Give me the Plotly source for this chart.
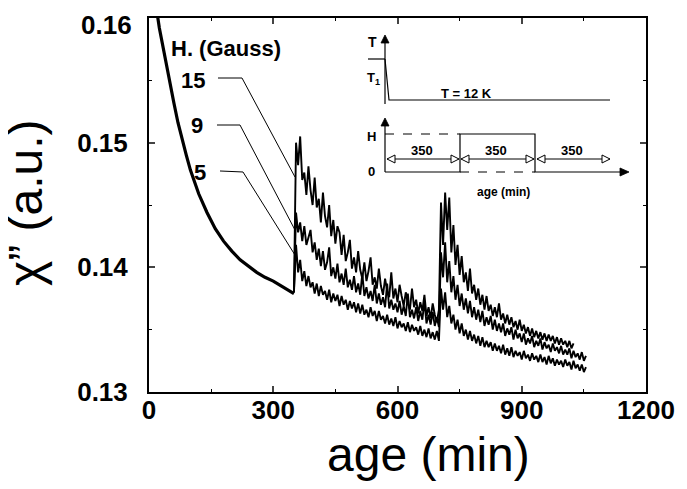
import plotly.graph_objects as go

# ---------------- data ----------------
age_aging = [15, 20, 25, 30, 35, 40, 50, 60, 70, 80, 90, 100, 110, 120, 140, 160, 180,
             200, 220, 240, 260, 280, 300, 320, 340, 350]
chi_aging = [0.1625, 0.1603, 0.1592, 0.1583, 0.1574, 0.1565, 0.1548, 0.1532, 0.1516, 0.1502,
             0.1490, 0.1478, 0.1468, 0.1459, 0.1444, 0.1431, 0.1421, 0.1413, 0.1406, 0.1401,
             0.1396, 0.1392, 0.1389, 0.1385, 0.1381, 0.1379]

age_h15 = list(range(350, 1030, 5))
chi_h15 = [
    0.1380, 0.1500, 0.1482, 0.1505, 0.1470, 0.1476, 0.1458, 0.1481, 0.1462, 0.1450,
    0.1472, 0.1448, 0.1455, 0.1436, 0.1460, 0.1441, 0.1432, 0.1450, 0.1425, 0.1438,
    0.1419, 0.1433, 0.1428, 0.1410, 0.1426, 0.1405, 0.1412, 0.1422, 0.1399, 0.1408,
    0.1396, 0.1413, 0.1398, 0.1391, 0.1404, 0.1389, 0.1397, 0.1408, 0.1386, 0.1392,
    0.1383, 0.1399, 0.1385, 0.1378, 0.1391, 0.1381, 0.1376, 0.1396, 0.1375, 0.1383,
    0.1372, 0.1386, 0.1377, 0.1369, 0.1380, 0.1371, 0.1366, 0.1383, 0.1368, 0.1374,
    0.1363, 0.1372, 0.1365, 0.1378, 0.1361, 0.1368, 0.1359, 0.1371, 0.1362, 0.1356,
    0.1366, 0.1452, 0.1418, 0.1460, 0.1430, 0.1456, 0.1412, 0.1434, 0.1402, 0.1418,
    0.1394, 0.1409, 0.1388, 0.1396, 0.1381, 0.1399, 0.1379, 0.1386, 0.1374, 0.1383,
    0.1370, 0.1378, 0.1366, 0.1377, 0.1365, 0.1370, 0.1361, 0.1368, 0.1360, 0.1371,
    0.1358, 0.1363, 0.1355, 0.1362, 0.1354, 0.1360, 0.1352, 0.1357, 0.1350, 0.1358,
    0.1349, 0.1354, 0.1347, 0.1352, 0.1345, 0.1351, 0.1344, 0.1349, 0.1343, 0.1348,
    0.1342, 0.1347, 0.1341, 0.1346, 0.1341, 0.1345, 0.1339, 0.1344, 0.1338, 0.1343,
    0.1338, 0.1341, 0.1336, 0.1341, 0.1335, 0.1339]

age_h9 = list(range(350, 1060, 5))
chi_h9 = [
    0.1380, 0.1444, 0.1428, 0.1436, 0.1421, 0.1433, 0.1418, 0.1425, 0.1430, 0.1412,
    0.1420, 0.1406, 0.1415, 0.1401, 0.1413, 0.1398, 0.1404, 0.1416, 0.1393, 0.1400,
    0.1391, 0.1403, 0.1388, 0.1395, 0.1386, 0.1399, 0.1384, 0.1390, 0.1382, 0.1393,
    0.1380, 0.1387, 0.1378, 0.1395, 0.1377, 0.1384, 0.1375, 0.1381, 0.1373, 0.1386,
    0.1371, 0.1379, 0.1370, 0.1376, 0.1368, 0.1387, 0.1367, 0.1374, 0.1366, 0.1371,
    0.1364, 0.1373, 0.1362, 0.1369, 0.1361, 0.1379, 0.1360, 0.1366, 0.1359, 0.1368,
    0.1357, 0.1365, 0.1358, 0.1373, 0.1355, 0.1362, 0.1354, 0.1364, 0.1353, 0.1360,
    0.1352, 0.1412, 0.1392, 0.1420, 0.1388, 0.1405, 0.1380, 0.1393, 0.1374, 0.1386,
    0.1369, 0.1379, 0.1366, 0.1375, 0.1363, 0.1373, 0.1360, 0.1368, 0.1358, 0.1366,
    0.1356, 0.1365, 0.1353, 0.1360, 0.1354, 0.1361, 0.1350, 0.1358, 0.1349, 0.1355,
    0.1348, 0.1355, 0.1345, 0.1351, 0.1346, 0.1352, 0.1342, 0.1350, 0.1343, 0.1347,
    0.1340, 0.1347, 0.1338, 0.1343, 0.1339, 0.1345, 0.1336, 0.1341, 0.1337, 0.1343,
    0.1334, 0.1340, 0.1335, 0.1338, 0.1332, 0.1339, 0.1333, 0.1336, 0.1331, 0.1337,
    0.1330, 0.1334, 0.1330, 0.1335, 0.1327, 0.1333, 0.1328, 0.1331, 0.1326, 0.1332,
    0.1325, 0.1329]

age_h5 = list(range(350, 1060, 5))
chi_h5 = [
    0.1380, 0.1418, 0.1396, 0.1406, 0.1389, 0.1397, 0.1385, 0.1393, 0.1384, 0.1388,
    0.1379, 0.1387, 0.1377, 0.1385, 0.1378, 0.1381, 0.1374, 0.1382, 0.1372, 0.1379,
    0.1373, 0.1378, 0.1369, 0.1377, 0.1370, 0.1374, 0.1366, 0.1373, 0.1367, 0.1372,
    0.1364, 0.1371, 0.1363, 0.1370, 0.1362, 0.1366, 0.1360, 0.1368, 0.1361, 0.1365,
    0.1357, 0.1365, 0.1358, 0.1361, 0.1355, 0.1362, 0.1354, 0.1359, 0.1353, 0.1360,
    0.1351, 0.1357, 0.1352, 0.1355, 0.1349, 0.1356, 0.1348, 0.1354, 0.1349, 0.1352,
    0.1346, 0.1353, 0.1345, 0.1350, 0.1344, 0.1351, 0.1343, 0.1348, 0.1342, 0.1349,
    0.1341, 0.1383, 0.1366, 0.1380, 0.1360, 0.1369, 0.1355, 0.1362, 0.1350, 0.1358,
    0.1347, 0.1355, 0.1345, 0.1350, 0.1342, 0.1349, 0.1341, 0.1346, 0.1339, 0.1345,
    0.1337, 0.1344, 0.1336, 0.1341, 0.1336, 0.1340, 0.1333, 0.1339, 0.1333, 0.1337,
    0.1331, 0.1338, 0.1330, 0.1335, 0.1329, 0.1336, 0.1328, 0.1333, 0.1329, 0.1332,
    0.1326, 0.1333, 0.1327, 0.1330, 0.1325, 0.1331, 0.1326, 0.1329, 0.1324, 0.1330,
    0.1324, 0.1328, 0.1322, 0.1329, 0.1323, 0.1327, 0.1321, 0.1326, 0.1322, 0.1325,
    0.1320, 0.1326, 0.1321, 0.1324, 0.1318, 0.1325, 0.1319, 0.1322, 0.1317, 0.1322,
    0.1316, 0.1320]

x_ticks = [0, 300, 600, 900, 1200]
x_minor = [150, 450, 750, 1050]
y_ticks = [0.13, 0.14, 0.15, 0.16]
y_ticktext = ["0.13", "0.14", "0.15", ""]   # the top label is placed separately below
y_top_label = "0.16"
y_minor = [0.135, 0.145, 0.155]
field_labels = ["15", "9", "5"]

# ---------------- figure ----------------
# the page body has an 8px margin; compensate so the plot lands where the reference has it
OFF = 8
W, H = 687, 489
L, T = 149 - OFF, 18 - OFF
R = W - (646 - OFF)
B = H - (392 - OFF)
PW, PH = W - L - R, H - T - B


def px(x):  # screen pixel -> paper x
    return (x - OFF - L) / PW


def py(y):  # screen pixel -> paper y
    return (H - B - (y - OFF)) / PH


FONT = "Arial"
fig = go.Figure()
fig.add_trace(go.Scatter(x=age_aging, y=chi_aging, mode="lines",
                         line=dict(color="black", width=3.2), showlegend=False))
for ax, ay in [(age_h15, chi_h15), (age_h9, chi_h9), (age_h5, chi_h5)]:
    fig.add_trace(go.Scatter(x=ax, y=ay, mode="lines",
                             line=dict(color="black", width=1.9), showlegend=False))

shapes = []


def line(x0, y0, x1, y1, w=1.2, dash="solid"):
    shapes.append(dict(type="line", xref="paper", yref="paper",
                       x0=px(x0), y0=py(y0), x1=px(x1), y1=py(y1),
                       line=dict(color="black", width=w, dash=dash)))


def path(pts, closed=False, fill=None, w=1.2):
    d = "M " + " L ".join(f"{px(a):.5f},{py(b):.5f}" for a, b in pts)
    if closed:
        d += " Z"
    shapes.append(dict(type="path", xref="paper", yref="paper", path=d,
                       fillcolor=fill if fill else "rgba(0,0,0,0)",
                       line=dict(color="black", width=w)))


# leader lines for field labels
path([(218, 78), (242, 78), (295, 177)], w=1.0)
path([(217, 125), (240, 125), (295, 230)], w=1.0)
path([(220, 171), (243, 172), (295, 255)], w=1.0)

# inset: temperature profile
line(368, 59, 385, 59)
path([(385, 59), (389, 100), (610, 100)])
line(385, 42, 385, 104)
path([(385, 35), (381, 43), (389, 43)], closed=True, fill="black", w=0.8)
# inset: field profile
line(385, 125, 385, 172)
path([(385, 118), (381, 126), (389, 126)], closed=True, fill="black", w=0.8)
path([(385, 172), (460, 172), (460, 134), (535, 134), (535, 172), (620, 172)])
line(385, 134, 460, 134, dash="dash")
line(460, 172, 535, 172, dash="dash")
path([(629, 172), (620, 168), (620, 176)], closed=True, fill="black", w=0.8)
# inset: 350-min arrows
for a, b in [(387, 459), (461, 534), (537, 610)]:
    line(a, 159, b, 159, w=1.0)
    path([(a, 159), (a + 8, 155), (a + 8, 163)], closed=True, fill="white", w=1.0)
    path([(b, 159), (b - 8, 155), (b - 8, 163)], closed=True, fill="white", w=1.0)

fig.update_layout(shapes=shapes)

ann = []


def text(x, y, s, size, bold=True, **kw):
    ann.append(dict(x=px(x), y=py(y), xref="paper", yref="paper", text=s, showarrow=False,
                    xanchor=kw.pop("xanchor", "center"), yanchor=kw.pop("yanchor", "middle"),
                    font=dict(family=FONT, size=size, color="black",
                              weight="bold" if bold else "normal"), **kw))


text(226, 48, "H. (Gauss)", 22)
for (lx, ly), s in zip([(193, 80), (197, 125), (200, 172)], field_labels):
    text(lx, ly, s, 22)
text(372, 42, "T", 14)
text(373, 78, "T<sub>1</sub>", 13)
text(466, 93, "T = 12 K", 13)
text(371, 136, "H", 13)
text(371, 171, "0", 13)
for xx, s in zip([422, 496, 572], ["350", "350", "350"]):
    text(xx, 150, s, 13)
text(503, 192, "age (min)", 12)
# top y tick label, kept inside the page
text(134, 8, y_top_label, 26, xanchor="right", yanchor="top")
# axis titles
text(428, 454, "age (min)", 48, bold=False)
text(25, 203, "\u03c7\u201d (a.u.)", 48, bold=False, textangle=-90)

fig.update_layout(annotations=ann)

fig.update_layout(
    width=W, height=H, margin=dict(l=L, r=R, t=T, b=B, pad=0),
    paper_bgcolor="white", plot_bgcolor="white", showlegend=False,
    xaxis=dict(range=[0, 1200], tickvals=x_ticks, ticks="inside", ticklen=6, tickwidth=1.5,
               showline=True, linewidth=2, linecolor="black", mirror="allticks",
               showgrid=False, zeroline=False, automargin=False, ticklabelstandoff=-6,
               ticklabeloverflow="allow",
               minor=dict(tickvals=x_minor, ticks="inside", ticklen=3, tickwidth=1.2,
                          tickcolor="black"),
               tickfont=dict(family=FONT, size=26, color="black", weight="bold")),
    yaxis=dict(range=[0.13, 0.16], tickvals=y_ticks, ticktext=y_ticktext, ticks="inside",
               ticklen=6, tickwidth=1.5, showline=True, linewidth=2, linecolor="black",
               mirror="allticks", showgrid=False, zeroline=False, ticklabelstandoff=14,
               automargin=False, ticklabeloverflow="allow",
               minor=dict(tickvals=y_minor, ticks="inside", ticklen=3, tickwidth=1.2,
                          tickcolor="black"),
               tickfont=dict(family=FONT, size=26, color="black", weight="bold")),
)

fig.write_html("out.html")
